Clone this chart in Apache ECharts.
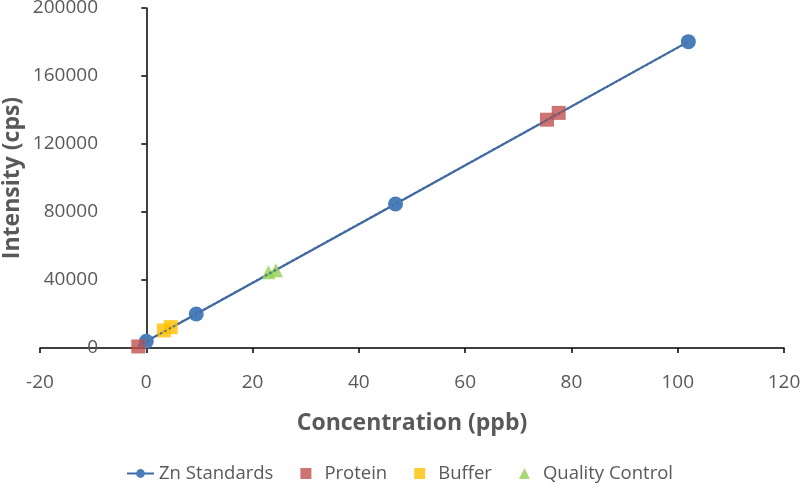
<!DOCTYPE html>
<html><head><meta charset="utf-8">
<script src="https://cdn.jsdelivr.net/npm/echarts@6/dist/echarts.min.js"></script>
<style>html,body{margin:0;padding:0;background:#fff}#c{width:800px;height:489px}</style>
</head><body><div id="c"></div>
<script>
var znX = [0, 9.4, 46.9, 102];
var znY = [4000, 20000, 84700, 180200];
var proteinX = [-1.5, 75.4, 77.6];
var proteinY = [900, 134300, 138300];
var bufferX = [3.3, 4.6];
var bufferY = [10300, 12300];
var qcX = [23, 24.4];
var qcY = [44500, 45800];
var xTicks = [-20, 0, 20, 40, 60, 80, 100, 120];
var yTicks = [0, 40000, 80000, 120000, 160000, 200000];

function pairs(xs, ys){ return xs.map(function(x,i){ return [x, ys[i]]; }); }

// linear trendline of the standards (least squares)
var n = znX.length, sx=0, sy=0, sxx=0, sxy=0;
for (var i=0;i<n;i++){ sx+=znX[i]; sy+=znY[i]; sxx+=znX[i]*znX[i]; sxy+=znX[i]*znY[i]; }
var slope = (n*sxy - sx*sy)/(n*sxx - sx*sx);
var icpt = (sy - slope*sx)/n;
var allX = znX.concat(proteinX, bufferX, qcX);
var tMin = Math.min.apply(null, allX), tMax = Math.max.apply(null, allX);
var trend = [[tMin, slope*tMin+icpt], [tMax, slope*tMax+icpt]];

var font = '"Open Sans", Lato, sans-serif';
var chart = echarts.init(document.getElementById('c'), null, {renderer:'canvas'});
chart.setOption({
  animation:false,
  grid:{left:40, right:16, top:8, bottom:141, containLabel:false, outerBoundsMode:'none'},
  xAxis:{type:'value', min:xTicks[0], max:xTicks[xTicks.length-1], interval:20,
    axisLine:{onZero:true, lineStyle:{color:'#000', width:1.5}},
    axisTick:{show:true, length:5, lineStyle:{color:'#000', width:1.5}},
    axisLabel:{color:'#595959', fontSize:19, fontFamily:font, margin:25, formatter:function(v){return String(v);}},
    splitLine:{show:false},
    name:'Concentration (ppb)', nameLocation:'middle', nameGap:64, nameMoveOverlap:false,
    nameTextStyle:{color:'#595959', fontSize:23, fontWeight:'bold', fontFamily:font}
  },
  yAxis:{type:'value', min:yTicks[0], max:yTicks[yTicks.length-1], interval:40000,
    axisLine:{onZero:true, lineStyle:{color:'#000', width:1.5}},
    axisTick:{show:true, length:5, lineStyle:{color:'#000', width:1.5}},
    axisLabel:{color:'#595959', fontSize:19, fontFamily:font, margin:-58, formatter:function(v){return String(v);}},
    splitLine:{show:false},
    name:'Intensity (cps)', nameLocation:'middle', nameGap:16, nameMoveOverlap:false,
    nameTextStyle:{color:'#595959', fontSize:23, fontWeight:'bold', fontFamily:font}
  },
  legend:{bottom:1, left:121, itemGap:27, itemWidth:27, itemHeight:11,
    textStyle:{color:'#595959', fontSize:18.5, fontFamily:font},
    data:[
      {name:'Zn Standards'},
      {name:'Protein', icon:'path://M0,0H10V10H0Z'},
      {name:'Buffer', icon:'path://M0,0H10V10H0Z'},
      {name:'Quality Control', icon:'path://M5,0L10,10H0Z'}
    ]},
  series:[
    {name:'Zn Standards', type:'line', data:pairs(znX, znY), symbol:'circle', symbolSize:15,
      itemStyle:{color:'#4A7EBB'}, lineStyle:{color:'#3D6AA8', width:2.2}, z:2},
    {name:'Protein', type:'scatter', data:pairs(proteinX, proteinY), symbol:'rect', symbolSize:14,
      itemStyle:{color:'#C0504D'}, z:3},
    {name:'Buffer', type:'scatter', data:pairs(bufferX, bufferY), symbol:'rect', symbolSize:14,
      itemStyle:{color:'#FFC000'}, z:3},
    {name:'Quality Control', type:'scatter', data:pairs(qcX, qcY), symbol:'triangle', symbolSize:14,
      itemStyle:{color:'#92D050'}, z:3},
    {name:'trend', type:'line', data:trend, symbol:'none', silent:true,
      lineStyle:{color:'#4A6A99', width:2, type:[2,3]}, z:4}
  ]
});
</script></body></html>
